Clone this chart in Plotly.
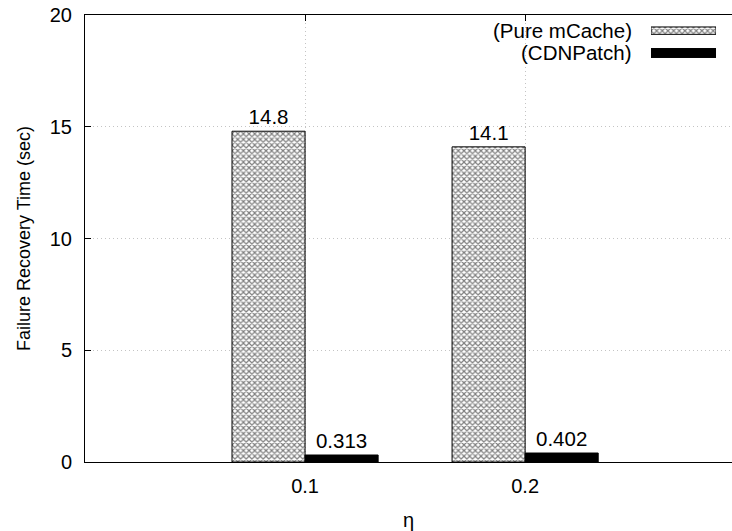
import plotly.graph_objects as go

categories = ["0.1", "0.2"]
pure_mcache = [14.8, 14.1]
cdnpatch = [0.313, 0.402]
labels_mcache = ["14.8", "14.1"]
labels_cdn = ["0.313", "0.402"]
series_names = ["(Pure mCache)", "(CDNPatch)"]
yticks = [0, 5, 10, 15, 20]

FONT = "Liberation Sans, Arial, sans-serif"
FS = 20.5
FS_TICK = 20
FS_YT = 18

pos = list(range(len(categories)))
W = 0.332
HATCH = dict(shape="x", fgcolor="black", bgcolor="white", size=4, solidity=0.5)
HIDDEN = dict(visible=False, showgrid=False, zeroline=False, showline=False,
              showticklabels=False, fixedrange=True, automargin=False)

fig = go.Figure()
fig.add_trace(go.Bar(
    x=pos, y=pure_mcache, width=W, offset=-W,
    text=labels_mcache, textposition="outside", cliponaxis=False,
    textfont=dict(family=FONT, size=FS, color="black"),
    marker=dict(color="white", line=dict(color="black", width=1), pattern=HATCH),
    name=series_names[0], showlegend=False,
))
fig.add_trace(go.Bar(
    x=pos, y=cdnpatch, width=W, offset=0,
    text=labels_cdn, textposition="outside", cliponaxis=False,
    textfont=dict(family=FONT, size=FS, color="black"),
    marker=dict(color="black", line=dict(color="black", width=1)),
    name=series_names[1], showlegend=False,
))

# legend swatches drawn on a small overlay axis
fig.add_trace(go.Bar(
    y=[1], x=[1], base=0, orientation="h", width=0.33, xaxis="x2", yaxis="y2",
    marker=dict(color="white", line=dict(color="black", width=1), pattern=HATCH),
    showlegend=False, hoverinfo="skip",
))
fig.add_trace(go.Bar(
    y=[0], x=[1], base=0, orientation="h", width=0.4, xaxis="x2", yaxis="y2",
    marker=dict(color="black", line=dict(color="black", width=1)),
    showlegend=False, hoverinfo="skip",
))

GRID = dict(showgrid=True, gridcolor="#c4c4c4", griddash="1px,3px", gridwidth=1)

fig.update_layout(
    width=732, height=531,
    margin=dict(l=85, r=0, t=15, b=69, autoexpand=False),
    paper_bgcolor="white", plot_bgcolor="white",
    font=dict(family=FONT, size=FS_TICK, color="black"),
    barmode="overlay",
    showlegend=False,
    xaxis=dict(
        range=[-1, 1.94], tickmode="array", tickvals=pos, ticktext=categories,
        showline=True, linecolor="black", linewidth=1, mirror="ticks",
        ticks="inside", ticklen=6, tickcolor="black", automargin=False,
        zeroline=False, ticklabelstandoff=6, **GRID,
        title=dict(text="η", standoff=18, font=dict(size=FS_TICK)),
    ),
    yaxis=dict(
        range=[0, 20], tickvals=yticks,
        showline=True, linecolor="black", linewidth=1, mirror=False,
        ticks="inside", ticklen=6, tickcolor="black", automargin=False,
        zeroline=False, ticklabelstandoff=8, **GRID,
        title=dict(text="Failure Recovery Time (sec)", standoff=14, font=dict(size=FS_YT)),
    ),
    xaxis2=dict(domain=[0.8748, 0.9753], range=[0, 1], anchor="y2", **HIDDEN),
    yaxis2=dict(domain=[0.89, 0.99], range=[-0.5, 1.5], anchor="x2", **HIDDEN),
    annotations=[
        dict(text=series_names[0], xref="paper", yref="y2", x=0.8485, y=1, xanchor="right",
             yanchor="middle", showarrow=False, font=dict(family=FONT, size=FS)),
        dict(text=series_names[1], xref="paper", yref="y2", x=0.8485, y=0, xanchor="right",
             yanchor="middle", showarrow=False, font=dict(family=FONT, size=FS)),
    ],
)

fig.write_html(
    "out.html",
    config={"displayModeBar": False},
    post_script="document.body.style.margin='0';document.body.style.overflow='hidden';"
                "document.documentElement.style.overflow='hidden';",
)
